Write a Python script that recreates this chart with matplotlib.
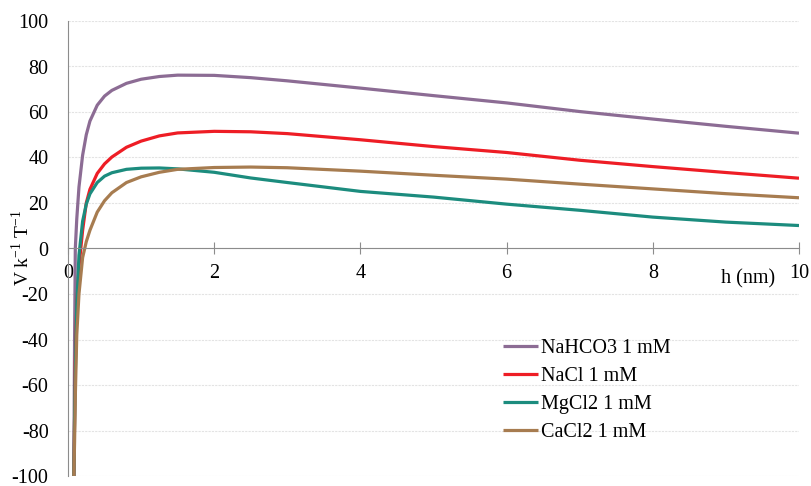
import matplotlib.pyplot as plt

plt.rcParams['font.family'] = ['Liberation Serif', 'DejaVu Serif']
plt.rcParams['mathtext.fontset'] = 'custom'
plt.rcParams['mathtext.rm'] = 'Liberation Serif'
plt.rcParams['axes.unicode_minus'] = False

# separacion h (nm)
h = [0.08, 0.09, 0.10, 0.12, 0.15, 0.20, 0.25, 0.30, 0.40, 0.50, 0.60, 0.80,
     1.0, 1.25, 1.5, 2.0, 2.5, 3.0, 4.0, 5.0, 6.0, 7.0, 8.0, 9.0, 10.0]

nahco3 = [-100, -40, 0, 13, 27, 41, 50, 56, 63, 67, 69.5, 72.6,
          74.4, 75.6, 76.2, 76.1, 75.1, 73.7, 70.5, 67.2, 64.0, 60.2, 56.9, 53.7, 50.7]
nacl = [-100, -75, -50, -25, -8, 8, 20, 26, 33, 37.2, 40.2, 44.5,
        47.2, 49.5, 50.8, 51.5, 51.3, 50.5, 47.8, 44.8, 42.2, 38.8, 36.0, 33.4, 30.9]
mgcl2 = [-100, -75, -55, -25, -3, 12, 19.5, 24, 29, 31.8, 33.3, 34.8,
         35.3, 35.4, 35.0, 33.5, 31.0, 29.0, 25.1, 22.6, 19.5, 16.8, 13.8, 11.6, 10.1]
cacl2 = [-100, -85, -65, -38, -20, -4, 3, 8, 16, 21, 24.5, 29,
         31.5, 33.5, 34.8, 35.6, 35.8, 35.5, 34.0, 32.2, 30.5, 28.3, 26.2, 24.1, 22.3]

etiquetas = ['NaHCO3 1 mM', 'NaCl 1 mM', 'MgCl2 1 mM', 'CaCl2 1 mM']
colores = ['#8C6C94', '#EE1D25', '#1C8C7E', '#A77C50']

fig = plt.figure(figsize=(8.11, 4.86), dpi=100)
ax = fig.add_axes([68 / 811, 10 / 486, 731 / 811, 455 / 486])

for serie, lab, col in zip([nahco3, nacl, mgcl2, cacl2], etiquetas, colores):
    ax.plot(h, serie, color=col, linewidth=2.3, label=lab, solid_capstyle='butt')

ax.set_xlim(0, 10)
ax.set_ylim(-100, 100)
ax.set_xticks([0, 2, 4, 6, 8, 10])
ax.set_yticks(range(-100, 101, 20))
ax.yaxis.grid(True, color='#E3E3E3', linewidth=0.8, linestyle=(0, (2, 1)))
ax.set_axisbelow(True)

for s in ['top', 'right']:
    ax.spines[s].set_visible(False)
ax.spines['bottom'].set_position(('data', 0))
ax.spines['bottom'].set_color('#8C8C8C')
ax.spines['left'].set_color('#8C8C8C')

ax.tick_params(axis='x', direction='inout', length=9, color='#8C8C8C',
               labelsize=14.5, pad=7)
ax.tick_params(axis='y', length=0, labelsize=14.5, pad=14)

ax.text(9.3, -13.5, 'h (nm)', fontsize=14.5, ha='center', va='center')
fig.text(22 / 811, 0.49, r'V k$^{\mathregular{-1}}$ T$^{\mathregular{-1}}$',
         rotation=90, fontsize=14, ha='center', va='center')

ax.legend(loc='upper left', bbox_to_anchor=(435 / 731, 0.301), frameon=False,
          fontsize=14.5, handlelength=1.75, handletextpad=0.15,
          labelspacing=0.44, borderpad=0, borderaxespad=0)

fig.savefig('out.png', dpi=100)
